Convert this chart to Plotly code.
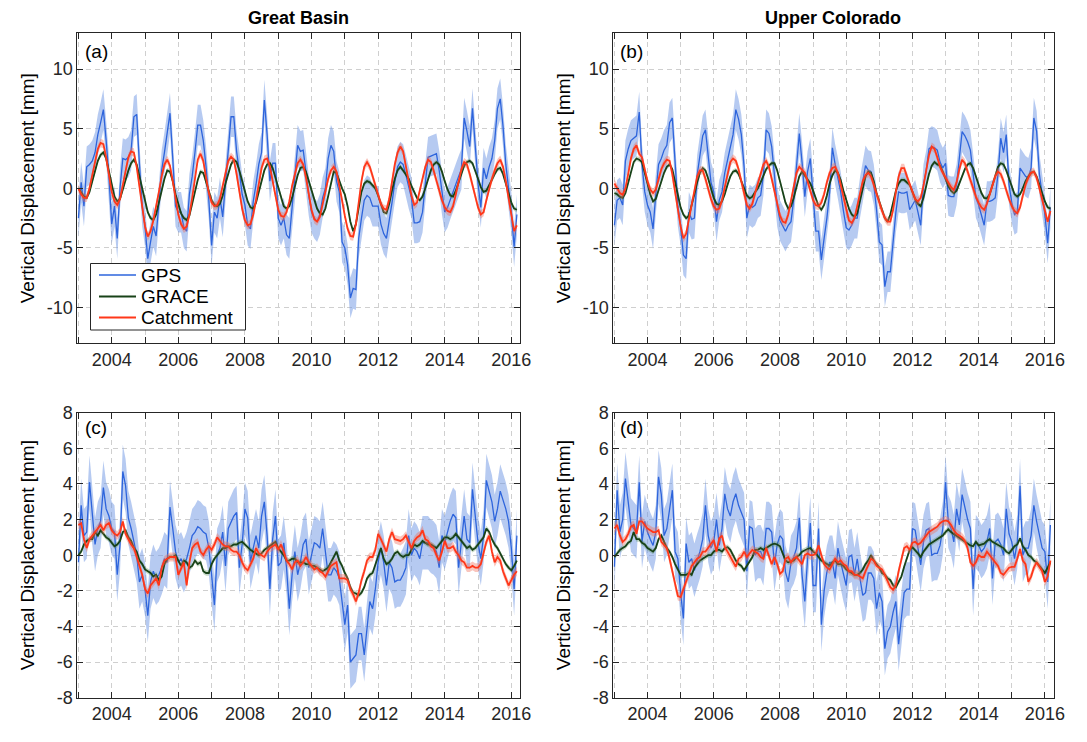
import numpy as np
import plotly.graph_objects as go

FONT = "Liberation Sans, Arial, Helvetica, sans-serif"
START_YEAR = 2003.0  # first monthly sample (Jan 2003)

YEAR_TICKS = [2003, 2004, 2005, 2006, 2007, 2008, 2009, 2010, 2011, 2012, 2013, 2014, 2015, 2016]
YEAR_LABELS = ["", "2004", "", "2006", "", "2008", "", "2010", "", "2012", "", "2014", "", "2016"]
TOP_Y_TICKS = [-10, -5, 0, 5, 10]
TOP_Y_LABELS = ["-10", "-5", "0", "5", "10"]
BOTTOM_Y_TICKS = [-8, -6, -4, -2, 0, 2, 4, 6, 8]
BOTTOM_Y_LABELS = ["-8", "-6", "-4", "-2", "0", "2", "4", "6", "8"]
REGIONS = ["Great Basin", "Upper Colorado"]
PANEL_LETTERS = ["(a)", "(b)", "(c)", "(d)"]
SERIES_NAMES = ["GPS", "GRACE", "Catchment"]
Y_TITLE = "Vertical Displacement [mm]"

# ---------------- Panel (a) Great Basin, monthly, rows = years 2003..2016 ----------------
GB_GPS = [
    -2.5, 0.5, -1.5, 1.8, 2.0, 2.3, 3.0, 4.5, 5.5, 6.6, 4.0, 1.0,
    -3.0, -1.5, -4.2, 0.0, 2.5, 2.4, 2.6, 3.2, 6.0, 6.2, 2.0, -1.5,
    -3.2, -5.9, -4.5, -3.2, -4.0, -1.0, 1.5, 3.0, 4.5, 6.3, 2.5, -1.5,
    -2.0, -2.0, -3.3, -3.6, -0.5, 1.0, 3.0, 5.3, 5.3, 4.0, 1.8, -1.0,
    -4.8, -2.0, -2.5, -0.8, -2.4, 0.6, 3.4, 6.0, 6.0, 3.1, 1.4, -0.5,
    -1.4, -3.1, -3.4, -1.1, 0.3, 2.0, 3.0, 7.4, 4.5, 0.6, 2.1, 2.1,
    -2.5, -3.1, -2.5, -3.9, -4.2, -1.7, 0.6, 3.6, 3.1, 3.2, 1.4, -0.6,
    -2.0, -2.5, -2.8, -2.2, -0.8, 0.0, 2.5, 3.6, 3.1, 0.6, -0.3, -4.5,
    -5.0, -6.4, -9.2, -8.4, -8.5, -4.2, -2.5, -1.0, -0.6, -0.8, -1.5, -1.5,
    -1.5, -3.0, -3.8, -4.2, -2.8, -1.2, 0.5, 1.8, 2.2, 2.0, 1.1, 0.0,
    -0.8, -2.9, -2.9, -2.8, -2.0, 0.4, 2.6, 2.7, 2.8, 2.9, 1.5, -0.5,
    -2.0, -1.6, -0.9, -0.3, 0.3, 1.0, 1.6, 5.9, 4.8, 3.5, 6.7, 3.6,
    0.4, -1.6, 1.7, 0.8, 1.8, 2.5, 4.0, 6.7, 7.5, 5.2, 2.0, 0.0,
    -2.0, -4.9, -2.2,
]
GB_GRACE = [
    0.0, -0.4, -0.7, -0.8, -0.3, 0.6, 1.5, 2.3, 2.8, 3.0, 2.5, 1.4,
    0.2, -0.7, -1.1, -0.9, -0.1, 0.8, 1.5, 2.1, 2.4, 2.0, 1.0, -0.1,
    -1.2, -2.0, -2.5, -2.65, -2.2, -1.3, -0.2, 0.8, 1.5, 1.4, 0.6, -0.5,
    -1.4, -2.1, -2.5, -2.65, -2.3, -1.4, -0.3, 0.7, 1.4, 1.3, 0.6, -0.3,
    -1.0, -1.4, -1.5, -1.3, -0.6, 0.4, 1.3, 2.0, 2.4, 2.2, 1.5, 0.6,
    -0.4, -1.1, -1.6, -1.7, -1.2, -0.3, 0.7, 1.5, 2.0, 2.1, 1.7, 0.9,
    -0.1, -0.9, -1.5, -1.7, -1.5, -0.8, 0.2, 1.1, 1.7, 1.8, 1.4, 0.6,
    -0.3, -1.1, -1.7, -2.1, -2.2, -1.7, -0.6, 0.6, 1.4, 1.3, 0.6, 0.0,
    -0.5, -1.5, -2.8, -3.6, -3.0, -1.6, -0.3, 0.4, 0.6, 0.5, 0.2, 0.0,
    -0.6, -1.3, -2.0, -2.1, -1.3, -0.2, 0.8, 1.5, 1.8, 1.5, 1.2, 0.8,
    0.2, -0.3, -0.8, -1.0, -0.7, 0.0, 0.8, 1.5, 2.0, 2.2, 2.0, 1.4,
    0.6, -0.1, -0.6, -0.7, -0.2, 0.5, 1.3, 1.9, 2.2, 2.3, 2.1, 1.5,
    0.8, 0.1, -0.3, -0.2, 0.2, 0.7, 1.2, 1.6, 1.7, 1.2, 0.4, -0.5,
    -1.2, -1.7, -1.8,
]
GB_CAT = [
    0.0, -0.5, -0.8, -0.8, 0.0, 1.2, 2.4, 3.3, 3.8, 3.7, 2.6, 1.0,
    -0.3, -1.1, -1.4, -0.9, 0.3, 1.6, 2.6, 3.1, 3.0, 1.8, 0.2, -1.4,
    -3.2, -4.05, -3.6, -2.7, -1.6, -0.3, 1.0, 2.0, 2.4, 1.9, 0.6, -0.9,
    -2.2, -3.0, -3.4, -3.2, -2.2, -0.8, 0.9, 2.4, 2.9, 2.3, 0.9, -0.4,
    -1.2, -1.5, -1.4, -0.9, 0.2, 1.4, 2.3, 2.65, 2.4, 1.2, -0.3, -1.7,
    -2.7, -3.1, -3.0, -2.2, -1.0, 0.4, 1.7, 2.4, 2.5, 1.8, 0.6, -0.7,
    -1.8, -2.3, -2.4, -2.0, -1.1, 0.2, 1.3, 2.1, 2.4, 2.0, 0.9, -0.5,
    -1.8, -2.6, -2.8, -2.4, -1.4, -0.2, 0.8, 1.5, 1.8, 1.4, 0.3, -1.0,
    -2.3, -3.4, -4.0, -4.05, -3.0, -1.2, 0.6, 1.8, 2.2, 1.8, 1.0, 0.2,
    -0.6, -1.3, -1.7, -1.8, -0.9, 0.6, 2.0, 3.0, 3.5, 3.1, 2.0, 0.6,
    -0.6, -1.4, -1.2, -0.2, 0.9, 1.8, 2.4, 2.2, 1.5, 0.6, -0.3, -1.0,
    -1.6, -1.9, -2.0, -1.5, -0.5, 0.6, 1.6, 2.2, 2.0, 1.2, 0.3, -0.6,
    -1.6, -2.2, -2.0, -1.0, 0.0, 0.8, 1.5, 2.1, 2.4, 1.8, 0.6, -0.8,
    -2.2, -3.6, -3.1,
]

# ---------------- Panel (b) Upper Colorado ----------------
UC_GPS = [
    -3.1, -1.0, -0.8, -1.4, 2.3, 3.3, 4.0, 4.2, 4.4, 6.4, 2.0, -0.3,
    -1.4, -2.0, -3.4, -0.5, 2.0, 2.5, 3.2, 3.6, 5.5, 5.9, 1.7, -1.5,
    -3.1, -5.6, -5.9, -2.0, -2.6, -2.5, 1.1, 2.8, 4.4, 4.9, 2.5, 0.5,
    -0.3, -2.8, -1.0, -0.3, 1.3, 2.3, 3.3, 4.5, 6.6, 5.8, 4.5, 1.8,
    -2.5, -1.4, -1.6, -1.4, -0.8, -0.6, 1.1, 4.9, 4.6, 3.5, 1.1, -1.5,
    -2.7, -3.1, -3.6, -3.1, -2.8, -0.9, 1.9, 4.6, 2.2, -0.7, 1.4, 2.5,
    -0.6, -3.6, -3.6, -6.0, -4.2, -2.5, -0.3, 3.4, 2.0, 0.8, -0.3, -1.9,
    -3.3, -3.5, -3.1, -2.5, -2.5, -0.8, 0.6, 1.9, 1.5, 1.4, 0.3, -1.8,
    -4.5, -4.75, -8.25, -7.0, -7.0, -4.2, -2.0, -0.3, -0.4, -0.4, -0.3, -1.8,
    -1.4, -1.0, -2.0, -3.1, 0.3, 1.5, 3.3, 3.5, 3.4, 3.2, 2.2, 1.7,
    2.1, -0.6, -0.7, -0.7, 0.3, 2.5, 4.75, 4.4, 3.9, 3.2, 1.2, -0.8,
    -1.4, -2.2, -3.1, -1.1, -1.1, -1.0, -0.8, 1.2, 4.2, 3.0, 4.5, 0.3,
    -1.2, -2.2, -2.0, 1.7, 1.3, 1.0, 0.85, 1.7, 5.9, 4.8, 1.2, -0.6,
    -2.2, -4.6, -1.6,
]
UC_GRACE = [
    -0.4, -0.5, -0.7, -0.8, -0.4, 0.5, 1.5, 2.2, 2.5, 2.4, 2.2, 1.4,
    0.4, -0.5, -1.1, -0.9, -0.2, 0.6, 1.3, 1.8, 2.0, 1.6, 0.6, -0.6,
    -1.6, -2.2, -2.5, -2.3, -1.5, -0.5, 0.5, 1.3, 1.7, 1.5, 0.8, -0.1,
    -0.8, -1.3, -1.4, -1.1, -0.5, 0.3, 1.0, 1.4, 1.5, 1.2, 0.6, -0.1,
    -0.6, -0.85, -0.7, -0.3, 0.0, 0.5, 1.1, 1.6, 1.9, 2.1, 2.1, 1.5,
    0.6, -0.4, -1.2, -1.7, -1.5, -0.8, 0.2, 1.0, 1.4, 1.1, 0.7, 0.4,
    -0.2, -0.9, -1.5, -1.8, -1.4, -0.6, 0.4, 1.1, 1.5, 1.3, 0.7, -0.2,
    -1.0, -1.7, -2.2, -2.4, -2.1, -1.1, 0.1, 1.0, 1.4, 1.3, 0.6, -0.4,
    -1.1, -1.8, -2.5, -2.8, -2.2, -1.2, -0.2, 0.4, 0.7, 0.7, 0.5, 0.3,
    -0.3, -0.9, -1.3, -1.5, -0.8, 0.3, 1.2, 1.9, 2.2, 2.0, 1.9, 1.4,
    0.8, 0.2, -0.2, -0.4, -0.2, 0.4, 1.1, 1.6, 2.0, 2.1, 1.7, 1.0,
    0.3, -0.4, -0.8, -0.85, -0.5, 0.3, 1.1, 1.8, 2.1, 2.0, 1.5, 0.8,
    0.1, -0.5, -0.7, -0.5, 0.0, 0.6, 1.0, 1.3, 1.4, 1.0, 0.3, -0.5,
    -1.1, -1.6, -1.7,
]
UC_CAT = [
    0.4, 0.0, -0.4, -0.55, 0.0, 1.2, 2.5, 3.3, 3.6, 2.9, 2.6, 1.6,
    0.6, -0.1, -0.4, -0.1, 0.8, 1.6, 2.1, 2.4, 2.3, 1.2, -0.3, -1.8,
    -3.2, -4.2, -3.8, -2.6, -1.3, 0.0, 1.0, 1.5, 1.5, 0.8, -0.1, -0.9,
    -1.5, -1.8, -1.7, -1.0, 0.1, 1.3, 2.2, 2.5, 2.3, 1.6, 0.5, -0.6,
    -1.4, -1.7, -1.3, -0.4, 0.4, 1.3, 2.0, 2.3, 1.8, 0.8, -0.3, -1.4,
    -2.3, -2.8, -2.9, -2.2, -1.0, 0.3, 1.3, 1.8, 1.5, 1.3, 0.6, -0.3,
    -1.0, -1.4, -1.5, -1.2, -0.5, 0.5, 1.3, 1.7, 1.8, 1.3, 0.3, -0.8,
    -1.9, -2.7, -2.9, -2.5, -1.5, -0.3, 0.6, 1.1, 1.3, 1.0, 0.3, -0.5,
    -1.3, -1.9, -2.5, -2.8, -2.8, -1.8, -0.3, 1.0, 1.7, 1.7, 1.0, 0.3,
    -0.4, -0.9, -1.1, -0.8, 0.2, 1.5, 2.8, 3.5, 3.3, 2.6, 1.8, 1.3,
    0.9, 0.5, 0.1, -0.15, 0.5, 1.6, 2.4, 2.1, 1.4, 0.6, -0.1, -0.7,
    -1.2, -1.6, -1.8, -1.3, -0.5, 0.3, 1.0, 1.4, 1.2, 0.6, -0.2, -0.9,
    -1.5, -1.9, -2.1, -1.6, -0.6, 0.3, 0.9, 1.3, 1.4, 0.9, 0.0, -0.9,
    -1.8, -2.8, -1.9,
]

# ---------------- Panel (c) Great Basin, residuals ----------------
GB_GPS_R = [
    -0.4, 2.8, 1.1, 1.3, 4.1, 2.1, 0.6, 1.5, 1.9, 3.8, 2.6, 2.2,
    1.5, 1.3, -1.1, 0.6, 4.7, 3.9, 2.1, 1.5, 0.7, 0.0, -1.5, -1.1,
    -1.9, -3.4, -1.5, -0.9, -1.3, -1.1, -0.7, -0.2, -0.4, 2.7, 1.5, 0.2,
    -0.4, -0.2, -0.6, -0.2, 0.4, 1.1, 1.3, 1.6, 1.5, 1.3, 1.2, 0.4,
    -1.1, -2.8, 0.0, 0.4, 1.3, -0.6, 1.5, 1.9, 2.2, 2.4, -0.7, 0.6,
    2.6, 2.1, -0.4, 0.4, 1.1, 0.4, 2.2, 3.0, 1.1, -1.9, 0.9, 2.2,
    -0.6, -0.4, 0.7, -0.7, -3.0, -1.1, 0.2, -1.1, -0.4, 0.6, 0.9, -0.7,
    0.0, 0.7, 0.6, 0.4, 1.5, 0.2, -1.1, -1.1, -0.7, -0.9, -1.3, -2.6,
    -3.9, -2.8, -6.0, -5.8, -5.6, -4.4, -4.4, -5.6, -3.9, -2.6, -3.0, -1.9,
    -0.4, 0.4, -0.4, -1.7, -0.4, -0.7, -1.5, -1.4, -1.4, -1.1, -0.7, 1.1,
    0.0, 0.4, 0.2, -0.2, 0.7, 0.7, 0.7, 0.5, 0.4, 0.2, -0.7, 1.1,
    0.7, 1.3, 1.9, 2.3, 2.1, -0.7, 0.6, 2.2, 0.9, 0.7, 3.7, 2.2,
    0.7, -0.2, 1.1, 4.2, 3.6, 3.0, 1.9, 2.6, 3.6, 3.1, 2.6, 1.9,
    0.4, -1.9, 1.1,
]
GB_GRACE_R = [
    0.0, 0.2, 0.6, 0.8, 0.9, 0.9, 1.3, 1.1, 1.4, 1.2, 1.0, 0.9,
    0.7, 0.5, 0.6, 0.8, 1.3, 1.4, 1.0, 0.8, 0.4, 0.2, -0.3, -0.5,
    -0.8, -0.9, -1.0, -1.2, -1.1, -1.4, -1.2, -0.5, -0.2, -0.1, -0.1, 0.0,
    -0.3, -0.6, -0.3, -0.4, -0.7, -0.6, -0.3, -0.5, -0.4, -0.9, -1.0, -1.0,
    -0.5, -0.2, 0.0, 0.2, 0.4, 0.4, 0.5, 0.5, 0.6, 0.6, 0.7, 0.75,
    0.6, 0.4, 0.3, 0.2, 0.1, 0.0, 0.1, 0.3, 0.4, 0.5, 0.6, 0.75,
    0.4, 0.2, 0.0, -0.3, -0.3, -0.2, -0.2, -0.4, -0.4, -0.4, -0.5, -0.5,
    -0.6, -0.6, -0.7, -0.8, -0.9, -0.8, -0.7, -0.4, -0.1, 0.2, -0.3, -0.6,
    -1.0, -1.3, -1.8, -2.1, -2.15, -2.25, -2.1, -1.8, -1.3, -1.1, -1.0, -0.5,
    0.0, 0.4, -0.2, -0.5, -0.4, -0.2, 0.1, 0.2, 0.0, -0.1, 0.0, 0.0,
    0.3, 0.6, 0.5, 0.6, 0.8, 0.7, 0.6, 0.6, 0.5, 0.4, 0.6, 0.8,
    1.0, 1.0, 0.9, 1.0, 1.2, 1.0, 0.8, 0.6, 0.4, 0.5, 0.3, 0.4,
    0.6, 0.8, 1.0, 1.5, 1.3, 0.9, 0.6, 0.4, 0.1, -0.2, -0.5, -0.7,
    -0.85, -0.6, -0.3,
]
GB_CAT_R = [
    1.7, 1.8, 0.9, 0.4, 0.9, 1.1, 1.3, 1.5, 1.7, 1.4, 1.7, 1.8,
    1.4, 1.2, 1.1, 1.3, 1.9, 1.2, 0.9, 0.6, 0.4, -0.1, -0.6, -1.1,
    -1.9, -2.15, -1.7, -1.5, -1.3, -1.7, -0.7, -0.3, -0.2, -0.1, -0.1, -0.1,
    -1.1, -0.7, -0.4, -1.7, -0.4, 0.4, 0.6, 0.7, 0.2, 0.0, 0.3, 0.5,
    0.3, 0.6, 1.0, 0.8, 0.6, 0.5, 0.5, 0.3, 0.2, 0.2, 0.0, -0.4,
    -0.7, -0.85, -0.5, -0.2, 0.4, 0.1, 0.0, -0.1, 0.2, 0.4, 0.5, 0.6,
    0.3, 0.6, 0.2, -0.3, -0.5, -0.8, -0.4, -0.3, -0.6, -0.4, -0.1, -0.4,
    -0.6, -0.8, -0.7, -0.9, -1.0, -1.2, -0.9, -0.6, -0.5, -0.4, -1.3, -1.3,
    -1.3, -1.4, -1.9, -2.2, -2.6, -2.1, -1.4, -0.9, -0.3, -0.1, -0.1, 0.3,
    1.2, 0.9, 0.5, 0.2, 0.9, 1.3, 0.9, 0.85, 0.8, 0.9, 1.1, 0.75,
    0.4, 0.8, 1.0, 1.1, 1.4, 0.9, 0.8, 0.5, 0.4, 0.0, -0.3, 0.2,
    0.8, 0.4, 0.4, 0.5, 0.2, 0.0, -0.3, -0.4, -0.7, -0.7, -0.6, -0.7,
    -0.7, -0.5, 0.1, 0.75, 1.1, 0.2, -0.4, -0.1, -0.3, -0.9, -1.3, -1.7,
    -1.4, -1.1, -0.9,
]

# ---------------- Panel (d) Upper Colorado, residuals ----------------
UC_GPS_R = [
    -0.65, 3.65, 1.3, 2.0, 4.3, 3.0, 1.7, 1.5, 1.3, 4.1, 0.75, 1.9,
    1.3, 0.9, 0.55, 1.3, 4.4, 3.4, 1.1, 1.5, 2.6, 3.65, 0.2, -0.2,
    -2.1, -3.55, 0.65, -0.4, -0.2, -0.85, -0.3, 0.2, 0.9, 2.8, 1.1, 0.4,
    0.75, 2.0, 0.55, 1.5, 3.45, 2.6, 2.2, 3.0, 3.45, 2.8, 2.4, 2.0,
    -0.9, 1.6, 1.5, 0.0, 0.2, 0.2, -0.2, 1.5, 1.5, 1.3, -0.55, 0.6,
    1.1, 0.9, -0.95, -1.5, -0.4, -0.1, 0.4, 2.1, -1.1, -2.6, -0.2, 1.8,
    -1.7, -1.7, 1.5, -3.9, -2.0, -0.95, -0.4, -0.4, -1.3, 0.4, -0.4, -1.1,
    -1.7, -0.1, 0.0, -1.1, -0.2, -1.3, -2.25, -2.1, -1.0, -1.0, -1.3, -3.0,
    -2.1, -2.6, -5.25, -4.3, -4.0, -3.2, -2.6, -5.0, -3.6, -2.1, -1.9, -1.9,
    1.5, 1.4, 0.4, -0.55, 0.75, 1.4, 1.5, 0.0, 0.1, 0.1, 0.55, 1.5,
    4.1, 1.9, 1.5, 0.75, 2.6, 1.7, 3.4, 2.6, 2.0, 1.5, -1.9, 0.75,
    0.55, 0.2, 0.4, 0.75, 1.5, -1.3, 0.75, 0.9, 0.6, 0.0, 2.6, 1.2,
    0.75, -0.2, 0.75, 3.9, 0.0, 0.4, 0.4, 1.1, 2.8, 1.9, 1.1, 0.4,
    0.2, -1.5, 1.7,
]
UC_GRACE_R = [
    -0.1, 0.1, 0.3, 0.4, 0.5, 0.7, 0.8, 1.3, 0.9, 0.9, 0.7, 0.6,
    0.4, 0.3, 0.2, 0.4, 0.9, 1.1, 0.7, 0.4, 0.2, -0.1, -0.5, -0.8,
    -1.1, -1.1, -1.1, -1.0, -1.1, -0.7, -0.5, -0.3, -0.2, -0.1, 0.0, 0.0,
    0.2, 0.3, 0.3, 0.2, 0.4, 0.45, 0.3, 0.0, -0.3, -0.5, -0.6, -0.85,
    -0.6, -0.3, -0.1, 0.3, 0.3, 0.4, 0.3, 0.4, 0.5, 0.6, 0.65, 0.6,
    0.5, 0.1, -0.3, -0.4, -0.35, -0.3, -0.1, 0.0, 0.2, 0.3, 0.35, 0.4,
    0.2, 0.1, -0.1, -0.3, -0.4, -0.5, -0.6, -0.4, -0.3, -0.5, -0.5, -0.6,
    -0.8, -0.9, -1.0, -1.1, -1.1, -1.0, -0.8, -0.5, -0.3, 0.0, -0.3, -0.5,
    -0.7, -1.0, -1.1, -1.3, -1.4, -1.7, -1.8, -1.5, -1.2, -0.65, -0.1, 0.3,
    0.45, 0.3, 0.1, -0.1, 0.2, 0.4, 0.6, 0.7, 0.8, 0.9, 1.0, 1.1,
    1.3, 1.45, 1.3, 1.2, 1.1, 1.0, 0.9, 0.8, 0.65, 0.55, 0.5, 0.75,
    0.55, 0.6, 0.65, 0.8, 0.9, 0.75, 0.65, 0.6, 0.5, 0.4, 0.2, 0.1,
    0.3, 0.5, 0.6, 0.95, 0.5, 0.3, 0.0, -0.1, -0.3, -0.4, -0.6, -0.8,
    -1.0, -0.7, -0.4,
]
UC_CAT_R = [
    1.5, 1.7, 1.1, 0.75, 0.9, 1.2, 1.6, 1.7, 1.2, 1.9, 1.9, 1.7,
    1.5, 1.4, 1.3, 1.3, 1.4, 0.75, 0.6, 0.4, -0.2, -0.9, -1.7, -2.3,
    -2.35, -1.9, -1.5, -1.1, -0.6, -0.4, -0.2, -0.1, 0.2, 0.2, 0.4, 0.6,
    0.85, 0.2, 0.95, 1.1, 0.45, 0.2, -0.1, -0.4, -0.65, -0.2, -0.1, 0.2,
    -0.1, 0.1, 0.3, 0.2, 0.1, -0.1, -0.2, 0.4, 0.0, -0.5, -0.1, -0.5,
    -1.05, -0.9, -0.2, -0.1, -0.4, -0.2, -0.1, -0.3, -0.5, 0.0, 0.1, 0.0,
    0.0, 0.1, 0.55, 0.0, -0.5, -0.7, -0.8, -0.5, -0.2, -0.4, -0.3, -0.5,
    -0.6, -0.9, -0.9, -1.1, -1.1, -1.2, -1.3, -0.9, -0.5, -0.2, -0.3, -0.6,
    -0.7, -0.8, -1.1, -1.5, -1.8, -1.95, -1.7, -0.9, -0.2, 0.4, 0.5, 0.3,
    0.7, 0.75, 0.6, 0.7, 0.9, 1.1, 1.3, 1.4, 1.5, 1.6, 1.8, 1.9,
    1.95, 1.9, 1.7, 1.4, 1.2, 1.1, 1.0, 0.8, 0.4, -0.4, -0.6, -0.4,
    0.0, -0.1, -0.1, 0.2, 0.0, -0.2, -0.4, -0.6, -1.0, -1.1, -0.9, -0.7,
    -0.65, -0.65, -0.2, 0.35, -0.3, -0.5, -1.5, -1.2, -0.7, -0.4, -0.65, -0.9,
    -1.5, -1.2, -0.3,
]

# uncertainty half-widths (mm) read from the shaded envelopes
SIG_TOP = {"gps": 1.7, "grace": 0.2, "cat": 0.35}
SIG_BOTTOM = {"gps": 1.5, "grace": 0.15, "cat": 0.25}

# ---------------- styling ----------------
COLORS = {"gps": "rgb(45,100,220)", "grace": "rgb(24,66,24)", "cat": "rgb(255,55,25)"}
BANDS = {"gps": "rgba(110,150,228,0.50)", "grace": "rgba(70,130,70,0.30)", "cat": "rgba(240,110,90,0.40)"}
WIDTHS = {"gps": 1.3, "grace": 1.8, "cat": 1.8}
AXC = "#262626"

W, H = 1087, 742
XDOMS = [[77.3 / W, 520.0 / W], [613.3 / W, 1053.5 / W]]
YDOM_TOP = [1 - 343.3 / H, 1 - 33.3 / H]
YDOM_BOT = [1 - 697.7 / H, 1 - 412.7 / H]
X_RANGE = [2002.967, 2016.26]

panels = [
    dict(d={"gps": GB_GPS, "grace": GB_GRACE, "cat": GB_CAT}, sig=SIG_TOP, xd=XDOMS[0], yd=YDOM_TOP,
         yr=[-13, 13], yt=TOP_Y_TICKS, yl=TOP_Y_LABELS),
    dict(d={"gps": UC_GPS, "grace": UC_GRACE, "cat": UC_CAT}, sig=SIG_TOP, xd=XDOMS[1], yd=YDOM_TOP,
         yr=[-13, 13], yt=TOP_Y_TICKS, yl=TOP_Y_LABELS),
    dict(d={"gps": GB_GPS_R, "grace": GB_GRACE_R, "cat": GB_CAT_R}, sig=SIG_BOTTOM, xd=XDOMS[0], yd=YDOM_BOT,
         yr=[-8, 8], yt=BOTTOM_Y_TICKS, yl=BOTTOM_Y_LABELS),
    dict(d={"gps": UC_GPS_R, "grace": UC_GRACE_R, "cat": UC_CAT_R}, sig=SIG_BOTTOM, xd=XDOMS[1], yd=YDOM_BOT,
         yr=[-8, 8], yt=BOTTOM_Y_TICKS, yl=BOTTOM_Y_LABELS),
]

fig = go.Figure()
keys = ["gps", "grace", "cat"]
for k, p in enumerate(panels):
    sfx = "" if k == 0 else str(k + 1)
    for key, name in zip(keys, SERIES_NAMES):
        vals = np.array(p["d"][key], dtype=float)
        t = START_YEAR + np.arange(len(vals)) / 12.0
        s = p["sig"][key]
        fig.add_trace(go.Scatter(
            x=np.concatenate([t, t[::-1]]), y=np.concatenate([vals + s, (vals - s)[::-1]]),
            fill="toself", fillcolor=BANDS[key], line=dict(width=0), mode="lines",
            hoverinfo="skip", showlegend=False, xaxis="x" + sfx, yaxis="y" + sfx))
        fig.add_trace(go.Scatter(
            x=t, y=vals, mode="lines", name=name, line=dict(color=COLORS[key], width=WIDTHS[key]),
            showlegend=False, xaxis="x" + sfx, yaxis="y" + sfx))

common = dict(showline=True, linecolor=AXC, linewidth=1, mirror="ticks", ticks="inside", ticklen=6,
              tickcolor=AXC, tickwidth=1, showgrid=True, gridcolor="#cfcfcf", griddash="5px,4px",
              gridwidth=1, zeroline=False, automargin=False,
              tickfont=dict(family=FONT, size=18, color=AXC))

layout = dict(
    width=W, height=H, margin=dict(l=0, r=0, t=0, b=0),
    paper_bgcolor="white", plot_bgcolor="white",
    font=dict(family=FONT, color="black"),
    showlegend=False,
)
for k, p in enumerate(panels):
    sfx = "" if k == 0 else str(k + 1)
    layout["xaxis" + sfx] = dict(domain=p["xd"], range=X_RANGE, anchor="y" + sfx,
                                 tickmode="array", tickvals=YEAR_TICKS, ticktext=YEAR_LABELS, **common)
    layout["yaxis" + sfx] = dict(domain=p["yd"], range=p["yr"], anchor="x" + sfx,
                                 tickmode="array", tickvals=p["yt"], ticktext=p["yl"], **common)

annotations = []
shapes = []
# region titles
for i, reg in enumerate(REGIONS):
    annotations.append(dict(text="<b>%s</b>" % reg, x=(XDOMS[i][0] + XDOMS[i][1]) / 2, y=1 - 18 / H,
                            xref="paper", yref="paper", xanchor="center", yanchor="middle",
                            showarrow=False, font=dict(family=FONT, size=18, color="black")))
# panel letters
letter_pos = [(83, 51), (618, 51), (83, 427), (618, 427)]
for lab, (px, py) in zip(PANEL_LETTERS, letter_pos):
    annotations.append(dict(text=lab, x=px / W, y=1 - py / H, xref="paper", yref="paper",
                            xanchor="left", yanchor="middle", showarrow=False,
                            font=dict(family=FONT, size=19, color="black")))
# y-axis titles
for px, yd in [(27, YDOM_TOP), (563, YDOM_TOP), (27, YDOM_BOT), (563, YDOM_BOT)]:
    annotations.append(dict(text=Y_TITLE, x=px / W, y=(yd[0] + yd[1]) / 2, xref="paper", yref="paper",
                            xanchor="center", yanchor="middle", textangle=-90, showarrow=False,
                            font=dict(family=FONT, size=19, color="black")))

# legend box (MATLAB-style) in panel (a)
LEG_BOX = (90.5, 263.5, 245.5, 330.0)
shapes.append(dict(type="rect", xref="paper", yref="paper", layer="above",
                   x0=LEG_BOX[0] / W, x1=LEG_BOX[2] / W, y0=1 - LEG_BOX[3] / H, y1=1 - LEG_BOX[1] / H,
                   line=dict(color=AXC, width=1), fillcolor="white"))
for (key, name), ly in zip(zip(keys, SERIES_NAMES), [275.0, 296.5, 317.5]):
    shapes.append(dict(type="line", xref="paper", yref="paper", layer="above",
                       x0=99 / W, x1=136 / W, y0=1 - ly / H, y1=1 - ly / H,
                       line=dict(color=COLORS[key], width=WIDTHS[key])))
    annotations.append(dict(text=name, x=139 / W, y=1 - ly / H, xref="paper", yref="paper",
                            xanchor="left", yanchor="middle", showarrow=False,
                            font=dict(family=FONT, size=19, color="black")))
layout["annotations"] = annotations
layout["shapes"] = shapes

fig.update_layout(**layout)
fig.write_html("out.html", config={"displayModeBar": False},
               post_script="document.body.style.margin='0px';")
